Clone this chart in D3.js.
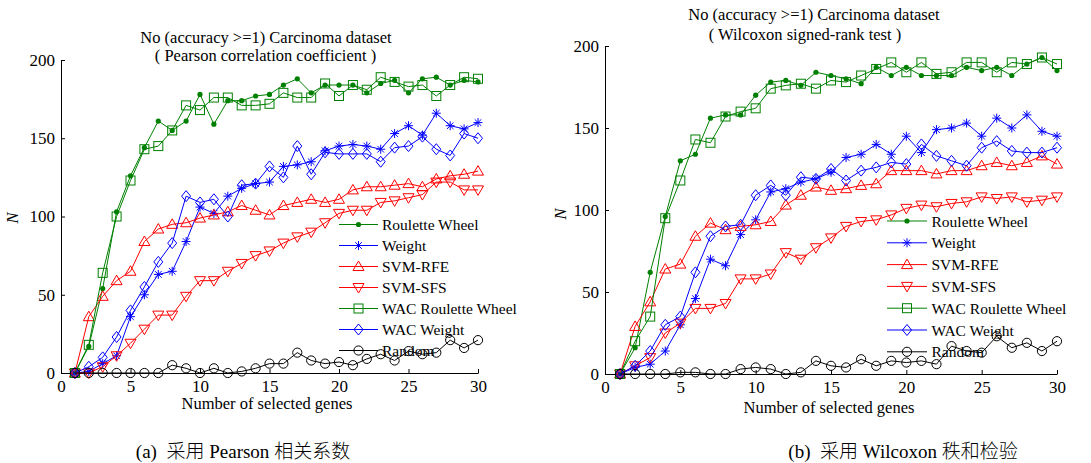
<!DOCTYPE html>
<html>
<head>
<meta charset="utf-8">
<script src="https://cdn.jsdelivr.net/npm/d3@7"></script>
<style>
  body { margin: 0; background: #fff; }
  svg { display: block; font-family: "Liberation Serif", "Times New Roman", serif; }
</style>
</head>
<body>
<svg id="chart" width="1091" height="463"></svg>
<script>
// number of selected genes
const genes = [1, 2, 3, 4, 5, 6, 7, 8, 9, 10, 11, 12, 13, 14, 15, 16, 17, 18, 19, 20, 21, 22, 23, 24, 25, 26, 27, 28, 29, 30];
const xTicks = [0, 5, 10, 15, 20, 25, 30];
const yTicks = [0, 50, 100, 150, 200];
const seriesNames = ['Roulette Wheel', 'Weight', 'SVM-RFE', 'SVM-SFS', 'WAC Roulette Wheel', 'WAC Weight', 'Random'];

// (a) Pearson correlation coefficient
const pearsonRoulette = [0, 17, 54, 103, 126, 144, 161, 155, 161, 178, 159, 174, 174, 177, 178, 184, 188, 179, 184, 184, 184, 179, 185, 187, 179, 188, 189, 184, 187, 186];
const pearsonWeight = [0, 1, 6, 11, 36, 50, 63, 65, 84, 106, 102, 113, 118, 121, 122, 132, 133, 135, 142, 145, 146, 145, 143, 153, 158, 152, 166, 158, 156, 160];
const pearsonRFE = [0, 36, 49, 59, 65, 84, 92, 95, 96, 99, 101, 103, 107, 104, 101, 107, 109, 111, 109, 111, 117, 119, 119, 120, 121, 119, 124, 126, 127, 129];
const pearsonSFS = [0, 0, 4, 11, 19, 28, 37, 37, 49, 59, 59, 65, 70, 75, 78, 83, 87, 90, 96, 102, 104, 104, 109, 110, 112, 114, 122, 122, 117, 117];
const pearsonWacRoulette = [0, 18, 64, 100, 123, 143, 145, 155, 171, 168, 176, 176, 171, 171, 172, 179, 176, 176, 185, 177, 184, 181, 189, 186, 183, 184, 177, 184, 189, 188];
const pearsonWacWeight = [0, 4, 10, 23, 40, 55, 71, 83, 113, 109, 111, 100, 120, 121, 132, 125, 145, 127, 141, 140, 140, 140, 135, 144, 145, 151, 143, 139, 153, 150];
const pearsonRandom = [0, 0, 0, 0, 0, 0, 0, 5, 3, 0, 3, 0, 1, 3, 6, 6, 13, 8, 6, 7, 5, 9, 12, 8, 14, 12, 13, 21, 16, 21];

// (b) Wilcoxon signed-rank test
const wilcoxonRoulette = [0, 16, 62, 96, 130, 134, 156, 158, 158, 170, 178, 179, 176, 184, 182, 180, 177, 187, 182, 187, 182, 182, 182, 187, 185, 187, 182, 189, 193, 185];
const wilcoxonWeight = [0, 4, 6, 14, 30, 46, 70, 66, 85, 94, 111, 113, 117, 119, 123, 132, 134, 140, 134, 145, 135, 149, 150, 153, 145, 156, 150, 158, 148, 145];
const wilcoxonRFE = [0, 29, 44, 64, 67, 84, 92, 88, 90, 91, 93, 103, 109, 114, 112, 113, 115, 116, 124, 124, 124, 122, 124, 124, 127, 129, 127, 129, 133, 128];
const wilcoxonSFS = [0, 5, 10, 25, 31, 40, 40, 43, 58, 58, 61, 74, 70, 77, 83, 90, 93, 94, 97, 101, 103, 102, 104, 105, 108, 107, 108, 105, 106, 108];
const wilcoxonWacRoulette = [0, 20, 35, 95, 118, 143, 141, 157, 160, 162, 174, 176, 177, 174, 179, 178, 182, 186, 190, 184, 190, 183, 184, 190, 190, 184, 190, 189, 193, 189];
const wilcoxonWacWeight = [0, 5, 14, 30, 35, 62, 84, 90, 91, 109, 115, 109, 120, 119, 125, 118, 124, 126, 129, 128, 140, 133, 130, 127, 138, 142, 136, 135, 135, 138];
const wilcoxonRandom = [0, 0, 0, 0, 1, 1, 0, 0, 3, 4, 3, 0, 1, 8, 5, 4, 9, 5, 8, 7, 8, 6, 17, 14, 13, 23, 16, 19, 14, 20];

const titleLine1 = 'No (accuracy >=1) Carcinoma dataset';
const xLabel = 'Number of selected genes';

// styles
const colors = ['#008000', '#0000ff', '#ff0000', '#ff0000', '#008000', '#0000ff', '#000000'];
const markers = ['dot', 'star', 'up', 'down', 'square', 'diamond', 'circle'];

const panels = [
  {
    series: [pearsonRoulette, pearsonWeight, pearsonRFE, pearsonSFS, pearsonWacRoulette, pearsonWacWeight, pearsonRandom],
    x: [61, 478], y: [373, 60],
    title: [{ t: titleLine1, x: 266, y: 43 }, { t: '( Pearson correlation coefficient )', x: 265.5, y: 61 }],
    xl: { x: 267, y: 409 }, yl: { x: 18, y: 218 },
    legend: { x0: 339, x1: 378, tx: 382, y: 224.5, dy: 21 },
    caption: { parts: ['(a)  ', '采用', ' Pearson ', '相关系数'], x: 243, y: 458 }
  },
  {
    series: [wilcoxonRoulette, wilcoxonWeight, wilcoxonRFE, wilcoxonSFS, wilcoxonWacRoulette, wilcoxonWacWeight, wilcoxonRandom],
    x: [605, 1057], y: [374, 46],
    title: [{ t: titleLine1, x: 814, y: 20 }, { t: '( Wilcoxon signed-rank test )', x: 805, y: 40 }],
    xl: { x: 829, y: 413 }, yl: { x: 566, y: 214 },
    legend: { x0: 887, x1: 927, tx: 931.5, y: 221, dy: 21.8 },
    caption: { parts: ['(b)  ', '采用', ' Wilcoxon ', '秩和检验'], x: 903, y: 458 }
  }
];

const svg = d3.select('#chart');
svg.append('rect').attr('width', 1091).attr('height', 463).attr('fill', '#fff');

function drawMarker(g, type, color) {
  if (type === 'dot') {
    g.append('circle').attr('r', 2.6).attr('fill', color);
  } else if (type === 'circle') {
    g.append('circle').attr('r', 4.6).attr('fill', 'none').attr('stroke', color);
  } else if (type === 'square') {
    g.append('rect').attr('x', -4.5).attr('y', -4.5).attr('width', 9).attr('height', 9)
      .attr('fill', 'none').attr('stroke', color);
  } else {
    let d;
    if (type === 'star') d = 'M-4.5,0L4.5,0M0,-4.5L0,4.5M-3.3,-3.3L3.3,3.3M-3.3,3.3L3.3,-3.3';
    if (type === 'up') d = 'M0,-5.5L5.5,4L-5.5,4Z';
    if (type === 'down') d = 'M0,5.5L5.5,-4L-5.5,-4Z';
    if (type === 'diamond') d = 'M0,-5.5L4.5,0L0,5.5L-4.5,0Z';
    g.append('path').attr('d', d).attr('fill', 'none').attr('stroke', color);
  }
}

panels.forEach(p => {
  const x = d3.scaleLinear().domain([0, 30]).range(p.x);
  const y = d3.scaleLinear().domain([0, 200]).range(p.y);
  const g = svg.append('g');

  const xAxis = g.append('g')
    .attr('transform', 'translate(0,' + p.y[0] + ')')
    .call(d3.axisBottom(x).tickValues(xTicks).tickSize(-4).tickSizeOuter(0).tickPadding(7));
  const yAxis = g.append('g')
    .attr('transform', 'translate(' + p.x[0] + ',0)')
    .call(d3.axisLeft(y).tickValues(yTicks).tickSize(-4).tickSizeOuter(0).tickPadding(6));
  [xAxis, yAxis].forEach(a => {
    a.attr('font-family', null);
    a.selectAll('text').attr('font-size', 17).attr('fill', '#000');
    a.selectAll('line, path').attr('stroke', '#000');
  });

  const line = d3.line().x((d, i) => x(genes[i])).y(d => y(d));
  p.series.forEach((s, si) => {
    g.append('path').datum(s).attr('d', line)
      .attr('fill', 'none').attr('stroke', colors[si]).attr('stroke-width', 1);
    s.forEach((v, i) => {
      const m = g.append('g').attr('transform', 'translate(' + x(genes[i]) + ',' + y(v) + ')');
      drawMarker(m, markers[si], colors[si]);
    });
  });

  p.title.forEach(t => {
    g.append('text').attr('x', t.x).attr('y', t.y).attr('text-anchor', 'middle')
      .attr('font-size', 16.5).text(t.t);
  });
  g.append('text').attr('x', p.xl.x).attr('y', p.xl.y).attr('text-anchor', 'middle')
    .attr('font-size', 16.5).text(xLabel);
  g.append('text').attr('transform', 'translate(' + p.yl.x + ',' + p.yl.y + ') rotate(-90)')
    .attr('text-anchor', 'middle').attr('font-size', 16.5).attr('font-style', 'italic').text('N');

  // legend, no box
  const L = p.legend;
  seriesNames.forEach((name, si) => {
    const ly = L.y + si * L.dy;
    g.append('line').attr('x1', L.x0).attr('x2', L.x1).attr('y1', ly).attr('y2', ly)
      .attr('stroke', colors[si]);
    const m = g.append('g').attr('transform', 'translate(' + ((L.x0 + L.x1) / 2) + ',' + ly + ')');
    drawMarker(m, markers[si], colors[si]);
    g.append('text').attr('x', L.tx).attr('y', ly + 5.5).attr('font-size', 15.5).text(name);
  });

  // caption: latin in serif, chinese in CJK font
  const cap = svg.append('text').attr('x', p.caption.x).attr('y', p.caption.y)
    .attr('text-anchor', 'middle').attr('font-size', 19).style('white-space', 'pre');
  p.caption.parts.forEach((part, i) => {
    cap.append('tspan')
      .attr('font-family', i % 2 ? '"Noto Sans CJK SC", sans-serif' : '"Liberation Serif", serif')
      .attr('font-weight', i % 2 ? 300 : null)
      .text(part);
  });
});
</script>
</body>
</html>
